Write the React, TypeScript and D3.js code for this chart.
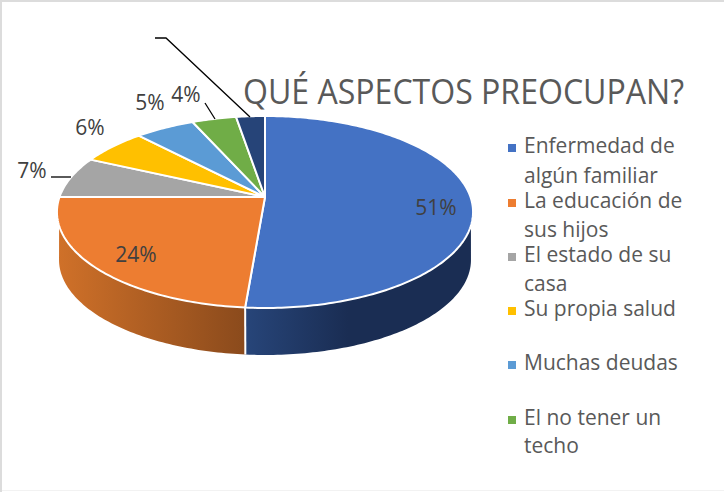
import React from "react";
import * as d3 from "d3";

const categories = ["Enfermedad de algún familiar", "La educación de sus hijos", "El estado de su casa", "Su propia salud", "Muchas deudas", "El no tener un techo", "Otros"];
const values = [51.3, 23.7, 7, 6, 5.4, 4, 2.6];
const colors = ["#4472c4", "#ed7d31", "#a5a5a5", "#ffc000", "#5b9bd5", "#70ad47", "#264478"];
const percentLabels = ["51%", "24%", "7%", "6%", "5%", "4%", ""];
const labelPositions: [number, number][] = [[436, 215], [136, 262], [32, 178], [90, 135], [150, 110], [186, 102]];
const legendLines = [["Enfermedad de", "algún familiar"], ["La educación de", "sus hijos"], ["El estado de su", "casa"], ["Su propia salud"], ["Muchas deudas"], ["El no tener un", "techo"]];
const legendBaselines = [[153, 183], [208, 237], [262, 291], [316], [370], [425, 453]];
const leaders: [number, number][][] = [[[155, 38], [166, 38], [250, 117]], [[205, 103], [215, 119]], [[51, 177], [71, 177]]];

const FONT = "'Open Sans', 'Noto Sans', sans-serif";
const cx = 265, cy = 197, R = 205.5, A = 93.66, k = 0.156;
const scaleBottom = 0.99, dy = 48.1;
const deg = Math.PI / 180;

const project = (t: number): [number, number] => {
  const u = Math.sin(t), v = Math.cos(t), d = 1 + k * v;
  return [R * u / d, -A * v / d];
};
const top = (t: number): [number, number] => {
  const [x, y] = project(t);
  return [cx + x, cy + y];
};
const bottom = (t: number): [number, number] => {
  const [x, y] = project(t);
  return [cx + x * scaleBottom, cy + y * scaleBottom + dy];
};
const sample = (a: number, b: number) => {
  const n = Math.max(2, Math.ceil(Math.abs(b - a) * 60));
  return d3.range(n + 1).map((i) => a + ((b - a) * i) / n);
};
const line = d3.line<[number, number]>();

export default function App() {
  const arcs = d3.pie<number>().sort(null).startAngle(0).endAngle(2 * Math.PI)(values);
  const blue = arcs[0], orange = arcs[1];
  const wall = (topA: number, topB: number, botA: number, botB: number) =>
    line([...sample(topA, topB).map(top), ...sample(botB, botA).map(bottom)]) + "Z";
  return (
    <svg width={724} height={492} style={{ position: "absolute", left: 0, top: 0, display: "block" }} fontFamily={FONT}>
      <defs>
        <linearGradient id="gb" gradientUnits="userSpaceOnUse" x1={246} x2={473} y1={0} y2={0}>
          <stop offset="0" stopColor="#274579" />
          <stop offset="0.45" stopColor="#1a2d53" />
          <stop offset="1" stopColor="#1a2d53" />
        </linearGradient>
        <linearGradient id="go" gradientUnits="userSpaceOnUse" x1={57} x2={246} y1={0} y2={0}>
          <stop offset="0" stopColor="#d07129" />
          <stop offset="1" stopColor="#8a4a1c" />
        </linearGradient>
      </defs>
      <rect x={0} y={0} width={724} height={492} fill="#fff" />
      <rect x={0} y={0} width={724} height={2} fill="#dcdcdc" />
      <rect x={0} y={0} width={2} height={492} fill="#dcdcdc" />
      <rect x={2} y={490} width={722} height={1} fill="#f2f2f2" />
      <path d={wall(107 * deg, blue.endAngle, 99 * deg, blue.endAngle)} fill="url(#gb)" />
      <path d={wall(orange.startAngle, 253 * deg, orange.startAngle, 261 * deg)} fill="url(#go)" />
      <path d={line([top(blue.endAngle), bottom(blue.endAngle)]) ?? ""} stroke="#fff" strokeWidth={2} fill="none" />
      {arcs.map((a, i) => (
        <path
          key={categories[i]}
          d={line([[cx, cy], ...sample(a.startAngle, a.endAngle).map(top)]) + "Z"}
          fill={colors[i]}
          stroke="#fff"
          strokeWidth={2}
          strokeLinejoin="round"
        />
      ))}
      {leaders.map((pts, i) => (
        <path key={i} d={line(pts) ?? ""} fill="none" stroke="#000" strokeWidth={1.3} />
      ))}
      {percentLabels.map((l, i) =>
        l ? (
          <text key={i} x={labelPositions[i][0]} y={labelPositions[i][1]} fontSize={21} fill="#404040" textAnchor="middle">
            {l}
          </text>
        ) : null
      )}
      <text x={243} y={104} fontSize={34} fill="#595959" textLength={441} lengthAdjust="spacingAndGlyphs">
        QUÉ ASPECTOS PREOCUPAN?
      </text>
      {legendLines.map((ls, i) => (
        <g key={i}>
          <rect x={508} y={legendBaselines[i][0] - 9} width={8} height={8} fill={colors[i]} />
          {ls.map((s, j) => (
            <text key={j} x={524} y={legendBaselines[i][j]} fontSize={21} fill="#595959">
              {s}
            </text>
          ))}
        </g>
      ))}
    </svg>
  );
}
